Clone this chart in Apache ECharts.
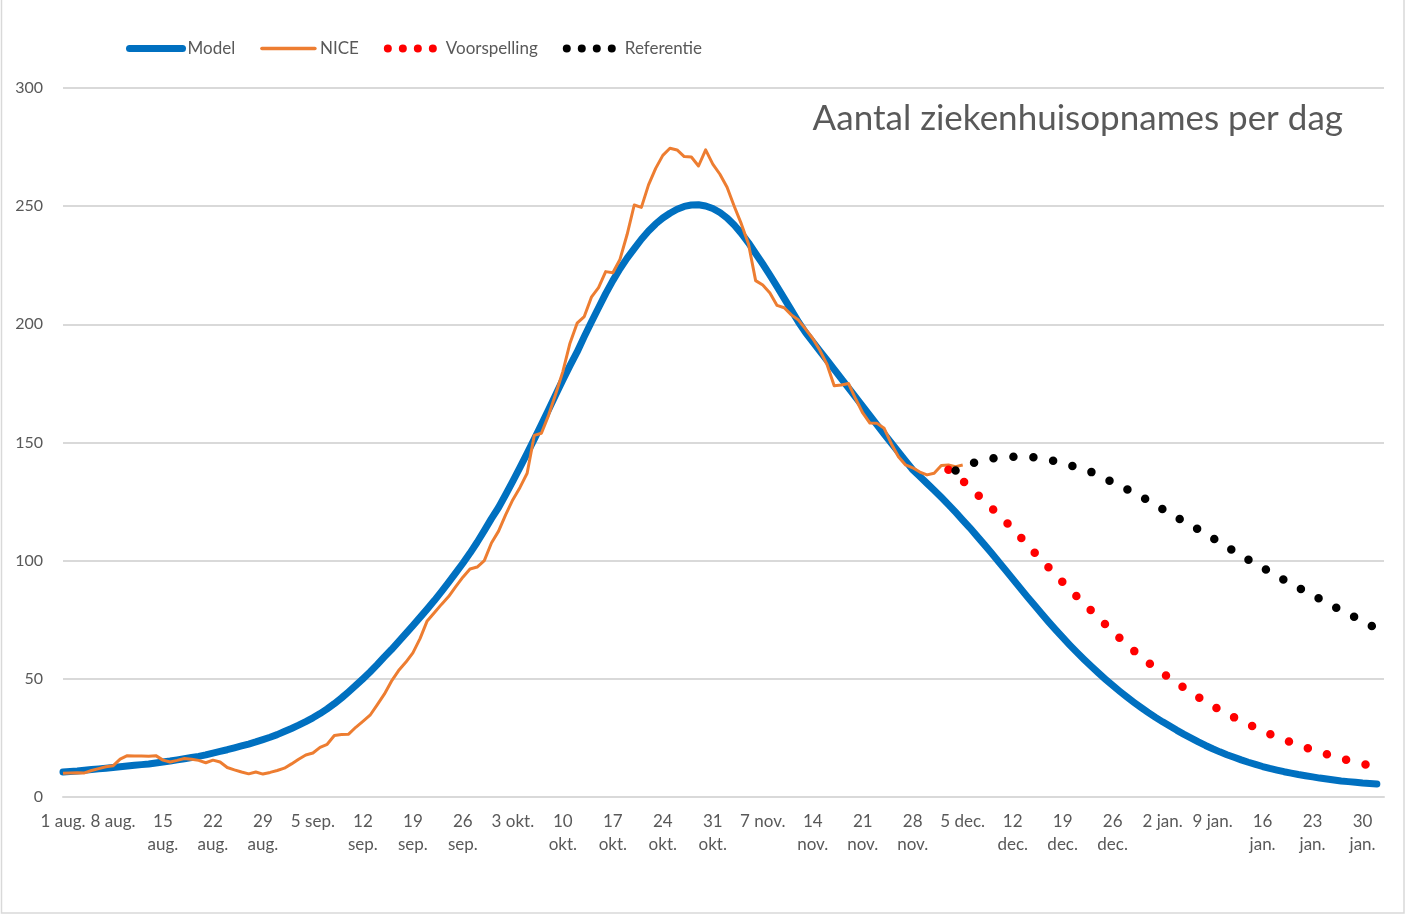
<!DOCTYPE html>
<html>
<head>
<meta charset="utf-8">
<script src="https://cdn.jsdelivr.net/npm/echarts@6/dist/echarts.min.js"></script>
<style>
html,body{margin:0;padding:0;background:#fff;}
#chart{width:1406px;height:916px;}
</style>
</head>
<body>
<div id="chart"></div>
<script>
// ---- data ----
const startDate = [2020, 7, 1];          // 1 aug.
const dayCount = 186;                     // 1 aug. .. 2 feb.
const monthNames = ['jan.','feb.','mrt.','apr.','mei','jun.','jul.','aug.','sep.','okt.','nov.','dec.'];
const tickLabels = ['1 aug.','8 aug.','15\naug.','22\naug.','29\naug.','5 sep.','12\nsep.','19\nsep.','26\nsep.',
  '3 okt.','10\nokt.','17\nokt.','24\nokt.','31\nokt.','7 nov.','14\nnov.','21\nnov.','28\nnov.',
  '5 dec.','12\ndec.','19\ndec.','26\ndec.','2 jan.','9 jan.','16\njan.','23\njan.','30\njan.'];
const yTicks = [0, 50, 100, 150, 200, 250, 300];

const modelValues = [
  10.6,10.8,11.0,11.3,11.6,11.9,12.2,12.5,12.8,13.1,
  13.4,13.7,14.0,14.4,14.8,15.2,15.7,16.2,16.7,17.2,
  17.8,18.6,19.3,20.0,20.8,21.6,22.4,23.3,24.3,25.3,
  26.4,27.7,29.0,30.4,31.9,33.5,35.3,37.3,39.5,41.9,
  44.5,47.2,50.0,52.9,56.0,59.3,62.4,65.7,69.1,72.5,
  76.0,79.5,83.1,86.9,90.8,94.8,98.9,103.2,107.8,112.7,
  117.8,122.5,128.0,133.7,139.5,145.4,151.4,157.6,163.9,170.2,
  176.5,182.5,188.3,194.8,201.0,207.0,213.0,218.5,223.5,228.0,
  232.0,236.0,239.5,242.5,245.0,247.0,248.7,249.9,250.5,250.6,
  250.1,249.0,247.3,245.0,242.0,238.5,234.5,230.0,225.5,220.8,
  216.0,211.0,206.0,201.0,196.5,192.6,188.7,184.8,180.9,177.0,
  173.1,169.2,165.3,161.4,157.5,153.6,149.8,146.0,142.2,138.5,
  135.6,132.7,129.8,126.8,123.7,120.5,117.2,113.9,110.4,106.9,
  103.3,99.7,96.0,92.3,88.6,84.9,81.3,77.7,74.2,70.8,
  67.5,64.3,61.2,58.2,55.3,52.5,49.8,47.2,44.7,42.3,
  40.0,37.8,35.7,33.7,31.8,30.0,28.2,26.5,24.9,23.3,
  21.8,20.4,19.1,17.9,16.8,15.7,14.7,13.8,12.9,12.1,
  11.4,10.7,10.1,9.5,9.0,8.5,8.0,7.6,7.2,6.8,
  6.5,6.2,5.9,5.7,5.5
];

const niceValues = [
  10.0,10.2,10.3,10.2,11.2,12.0,12.8,13.2,16.0,17.5,
  17.3,17.3,17.2,17.5,15.6,14.8,15.5,16.3,16.0,15.5,
  14.5,15.6,14.8,12.5,11.5,10.6,9.8,10.6,9.7,10.4,
  11.2,12.2,14.0,16.0,17.8,18.6,21.0,22.3,26.0,26.4,
  26.6,29.5,32.0,34.6,39.0,43.5,49.0,53.5,57.0,61.0,
  67.0,74.5,78.0,81.5,84.8,89.0,93.0,96.5,97.3,100.0,
  107.5,112.5,119.5,125.8,131.0,137.0,153.0,153.9,161.5,170.5,
  180.0,192.0,200.5,203.3,211.5,215.5,222.3,221.8,227.5,238.0,
  250.5,249.5,259.0,266.0,271.5,274.5,273.8,271.0,270.8,267.0,
  273.8,267.8,263.5,258.0,250.0,242.5,234.0,218.5,216.6,213.3,
  208.0,207.0,204.0,201.8,198.0,194.0,189.0,183.0,174.0,174.3,
  175.0,168.5,162.5,158.2,158.1,156.0,149.5,144.0,140.5,139.3,
  137.5,136.3,137.0,140.3,140.5,139.8,140.5
];

const forecastStartIndex = 124; // 3 dec.
const forecastValues = [
  138.5,136.3,133.8,131.0,128.2,125.3,122.4,119.5,116.6,113.5,
  110.3,107.0,103.6,100.3,97.2,94.0,90.9,87.8,84.8,81.8,
  78.9,75.9,73.0,70.0,67.2,64.4,61.8,59.3,56.9,54.6,
  52.4,50.3,48.2,46.2,44.2,42.3,40.4,38.6,36.9,35.3,
  33.7,32.2,30.8,29.4,28.0,26.7,25.5,24.3,23.1,22.0,
  21.0,20.0,19.0,18.1,17.2,16.3,15.5,14.7,14.0,13.3,
  12.7
];

const referenceStartIndex = 125; // 4 dec.
const referenceValues = [
  138.2,139.6,140.8,141.8,142.6,143.2,143.6,143.9,144.0,144.0,
  143.9,143.7,143.2,142.7,142.1,141.3,140.4,139.5,138.5,137.5,
  136.2,134.7,133.2,131.7,130.2,128.7,127.1,125.4,123.6,121.8,
  120.0,118.3,116.6,114.9,113.2,111.4,109.6,107.7,105.8,104.0,
  102.2,100.4,98.7,97.0,95.3,93.6,91.9,90.2,88.6,87.0,
  85.4,83.8,82.2,80.6,79.0,77.5,76.0,74.5,72.8,71.3
];

// ---- build ----
const categories = [];
for (let i = 0; i < dayCount; i++) {
  const d = new Date(startDate[0], startDate[1], startDate[2] + i);
  categories.push(d.getDate() + ' ' + monthNames[d.getMonth()]);
}
function padded(values, start) {
  const arr = new Array(dayCount).fill(null);
  values.forEach((v, k) => { arr[start + k] = v; });
  return arr;
}

const FONT = 'Lato, "Open Sans", sans-serif';
const GREY = '#595959';
const BLUE = '#0070C0', ORANGE = '#ED7D31', RED = '#FF0000', BLACK = '#000000';

const chart = echarts.init(document.getElementById('chart'));
chart.setOption({
  backgroundColor: '#ffffff',
  animation: false,
  title: {
    text: 'Aantal ziekenhuisopnames per dag',
    right: 58, top: 96,
    textStyle: { fontFamily: FONT, fontSize: 35, fontWeight: 'normal', color: GREY }
  },
  legend: {
    left: 126, top: 40, padding: 0,
    itemWidth: 53, itemHeight: 8, itemGap: 25,
    textStyle: { fontFamily: FONT, fontSize: 17, color: GREY },
    data: [
      { name: 'Model', lineStyle: { width: 7, cap: 'round', color: BLUE }, itemStyle: { opacity: 0 } },
      { name: 'NICE', lineStyle: { width: 3.5, cap: 'round', color: ORANGE }, itemStyle: { opacity: 0 } },
      { name: 'Voorspelling', lineStyle: { type: [0, 15], cap: 'round', width: 8, color: RED }, itemStyle: { opacity: 0 } },
      { name: 'Referentie', lineStyle: { type: [0, 15], cap: 'round', width: 8, color: BLACK }, itemStyle: { opacity: 0 } }
    ]
  },
  grid: { left: 63, right: 22, top: 88, bottom: 119 },
  xAxis: {
    type: 'category',
    data: categories,
    boundaryGap: false,
    axisLine: { show: true, lineStyle: { color: '#d9d9d9', width: 2 } },
    axisTick: { show: false },
    axisLabel: {
      interval: 6,
      margin: 13,
      lineHeight: 23,
      fontFamily: FONT, fontSize: 17, color: GREY,
      formatter: (val, idx) => tickLabels[Math.round(idx / 7)]
    },
    splitLine: { show: false }
  },
  yAxis: {
    type: 'value',
    min: yTicks[0], max: yTicks[yTicks.length - 1], interval: 50,
    axisLine: { show: false },
    axisTick: { show: false },
    axisLabel: { margin: 20, fontFamily: FONT, fontSize: 16, color: GREY },
    splitLine: { lineStyle: { color: '#d9d9d9', width: 2 } }
  },
  graphic: [{
    type: 'rect', silent: true, z: -10,
    shape: { x: 1.5, y: -3, width: 1402.5, height: 916 },
    style: { fill: null, stroke: '#d9d9d9', lineWidth: 1.5 }
  }],
  series: [
    {
      name: 'Model', type: 'line', data: modelValues,
      symbol: 'none', showSymbol: false,
      lineStyle: { color: BLUE, width: 7, cap: 'round', join: 'round' },
      itemStyle: { color: BLUE }
    },
    {
      name: 'NICE', type: 'line', data: niceValues,
      symbol: 'none', showSymbol: false,
      lineStyle: { color: ORANGE, width: 3, join: 'round' },
      itemStyle: { color: ORANGE }
    },
    {
      name: 'Voorspelling', type: 'line', data: padded(forecastValues, forecastStartIndex),
      symbol: 'none', showSymbol: false,
      lineStyle: { color: RED, width: 8.5, type: [0, 20], cap: 'round' },
      itemStyle: { color: RED }
    },
    {
      name: 'Referentie', type: 'line', data: padded(referenceValues, referenceStartIndex),
      symbol: 'none', showSymbol: false,
      lineStyle: { color: BLACK, width: 8.5, type: [0, 20], cap: 'round' },
      itemStyle: { color: BLACK }
    }
  ]
});
</script>
</body>
</html>
